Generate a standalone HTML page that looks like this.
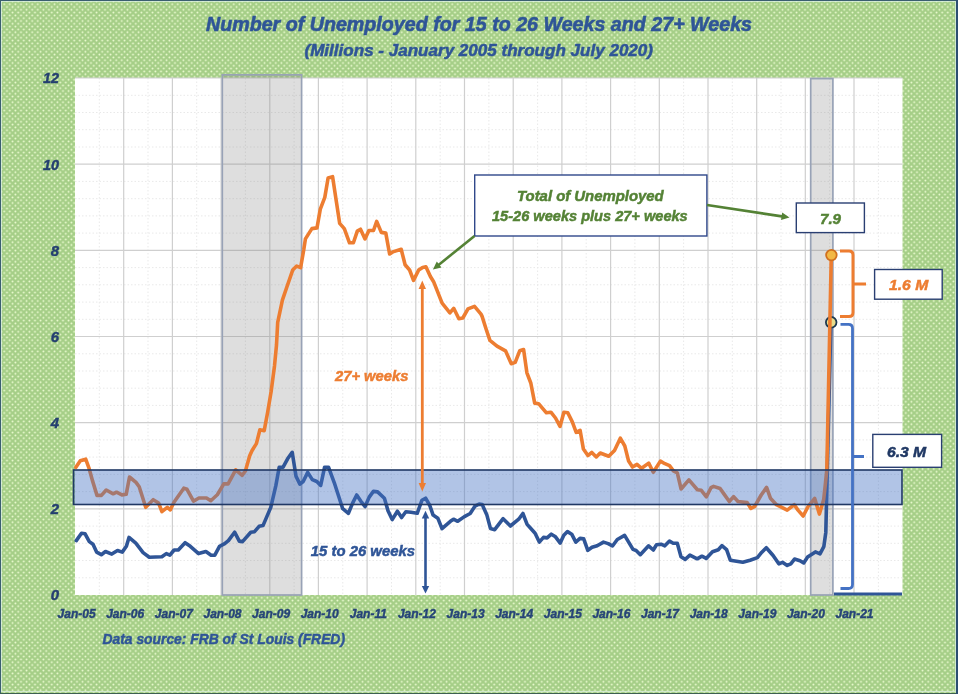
<!DOCTYPE html>
<html><head><meta charset="utf-8">
<style>
html,body{margin:0;padding:0;width:958px;height:694px;overflow:hidden;background:#b0d596}
svg{display:block;will-change:transform}
text{font-family:"Liberation Sans",sans-serif;font-weight:bold;font-style:italic}
.mj{stroke:#cfcfcf;stroke-width:1.2}
.mn{stroke:#e9e9e9;stroke-width:1;stroke-dasharray:1.5 2}
.yl{font-size:15px;fill:#243f70;stroke:#243f70;stroke-width:0.45}
.an{font-size:15px;stroke-width:0.5}
.xl{font-size:12px;fill:#264478;stroke:#264478;stroke-width:0.4}
</style></head><body>
<svg width="958" height="694" viewBox="0 0 958 694">
<defs>
<pattern id="dots" width="5.6" height="5.6" patternUnits="userSpaceOnUse">
<rect width="5.6" height="5.6" fill="#a5ce87"/>
<circle cx="1.4" cy="1.4" r="0.95" fill="#effed4"/>
<circle cx="4.2" cy="4.2" r="0.95" fill="#effed4"/>
</pattern>
<marker id="agr" viewBox="0 0 10 10" refX="9" refY="5" markerWidth="4.2" markerHeight="4.2" orient="auto"><path d="M0,0 L10,5 L0,10 z" fill="#548235"/></marker>
</defs>
<rect x="0" y="0" width="958" height="694" fill="url(#dots)"/>
<rect x="1.5" y="1.5" width="954" height="690" fill="none" stroke="#d8eedd" stroke-width="1" stroke-opacity="0.8"/>
<rect x="0" y="0" width="958" height="1" fill="#3b5f70"/>
<rect x="0" y="0" width="1" height="694" fill="#3b5f70"/>
<rect x="0" y="693" width="958" height="1" fill="#3b6050"/>
<rect x="956" y="0" width="2" height="694" fill="#2c4f72"/>
<text x="206" y="30.8" textLength="546" lengthAdjust="spacingAndGlyphs" style="font-size:19.5px;fill:#2f5597;stroke:#2f5597;stroke-width:0.6">Number of Unemployed for 15 to 26 Weeks and 27+ Weeks</text>
<text x="304.5" y="55.6" textLength="348.5" lengthAdjust="spacingAndGlyphs" style="font-size:16.5px;fill:#2f5597;stroke:#2f5597;stroke-width:0.5">(Millions - January 2005 through July 2020)</text>
<rect x="75" y="78" width="827.5" height="517" fill="#ffffff"/>
<line x1="75" y1="577.8" x2="902.5" y2="577.8" class="mn"/>
<line x1="75" y1="560.5" x2="902.5" y2="560.5" class="mn"/>
<line x1="75" y1="543.3" x2="902.5" y2="543.3" class="mn"/>
<line x1="75" y1="526.1" x2="902.5" y2="526.1" class="mn"/>
<line x1="75" y1="491.6" x2="902.5" y2="491.6" class="mn"/>
<line x1="75" y1="474.4" x2="902.5" y2="474.4" class="mn"/>
<line x1="75" y1="457.1" x2="902.5" y2="457.1" class="mn"/>
<line x1="75" y1="439.9" x2="902.5" y2="439.9" class="mn"/>
<line x1="75" y1="405.4" x2="902.5" y2="405.4" class="mn"/>
<line x1="75" y1="388.2" x2="902.5" y2="388.2" class="mn"/>
<line x1="75" y1="371.0" x2="902.5" y2="371.0" class="mn"/>
<line x1="75" y1="353.8" x2="902.5" y2="353.8" class="mn"/>
<line x1="75" y1="319.3" x2="902.5" y2="319.3" class="mn"/>
<line x1="75" y1="302.1" x2="902.5" y2="302.1" class="mn"/>
<line x1="75" y1="284.8" x2="902.5" y2="284.8" class="mn"/>
<line x1="75" y1="267.6" x2="902.5" y2="267.6" class="mn"/>
<line x1="75" y1="233.1" x2="902.5" y2="233.1" class="mn"/>
<line x1="75" y1="215.9" x2="902.5" y2="215.9" class="mn"/>
<line x1="75" y1="198.7" x2="902.5" y2="198.7" class="mn"/>
<line x1="75" y1="181.4" x2="902.5" y2="181.4" class="mn"/>
<line x1="75" y1="147.0" x2="902.5" y2="147.0" class="mn"/>
<line x1="75" y1="129.7" x2="902.5" y2="129.7" class="mn"/>
<line x1="75" y1="112.5" x2="902.5" y2="112.5" class="mn"/>
<line x1="75" y1="95.3" x2="902.5" y2="95.3" class="mn"/>
<line x1="99.3" y1="78" x2="99.3" y2="595" class="mn"/>
<line x1="148.0" y1="78" x2="148.0" y2="595" class="mn"/>
<line x1="196.7" y1="78" x2="196.7" y2="595" class="mn"/>
<line x1="245.4" y1="78" x2="245.4" y2="595" class="mn"/>
<line x1="294.1" y1="78" x2="294.1" y2="595" class="mn"/>
<line x1="342.8" y1="78" x2="342.8" y2="595" class="mn"/>
<line x1="391.5" y1="78" x2="391.5" y2="595" class="mn"/>
<line x1="440.2" y1="78" x2="440.2" y2="595" class="mn"/>
<line x1="488.9" y1="78" x2="488.9" y2="595" class="mn"/>
<line x1="537.6" y1="78" x2="537.6" y2="595" class="mn"/>
<line x1="586.2" y1="78" x2="586.2" y2="595" class="mn"/>
<line x1="634.9" y1="78" x2="634.9" y2="595" class="mn"/>
<line x1="683.6" y1="78" x2="683.6" y2="595" class="mn"/>
<line x1="732.3" y1="78" x2="732.3" y2="595" class="mn"/>
<line x1="781.0" y1="78" x2="781.0" y2="595" class="mn"/>
<line x1="829.7" y1="78" x2="829.7" y2="595" class="mn"/>
<line x1="878.4" y1="78" x2="878.4" y2="595" class="mn"/>
<line x1="75" y1="508.8" x2="902.5" y2="508.8" class="mj"/>
<line x1="75" y1="422.7" x2="902.5" y2="422.7" class="mj"/>
<line x1="75" y1="336.5" x2="902.5" y2="336.5" class="mj"/>
<line x1="75" y1="250.4" x2="902.5" y2="250.4" class="mj"/>
<line x1="75" y1="164.2" x2="902.5" y2="164.2" class="mj"/>
<line x1="75" y1="78.0" x2="902.5" y2="78.0" class="mj"/>
<line x1="123.7" y1="78" x2="123.7" y2="595" class="mj"/>
<line x1="172.4" y1="78" x2="172.4" y2="595" class="mj"/>
<line x1="221.1" y1="78" x2="221.1" y2="595" class="mj"/>
<line x1="269.8" y1="78" x2="269.8" y2="595" class="mj"/>
<line x1="318.4" y1="78" x2="318.4" y2="595" class="mj"/>
<line x1="367.1" y1="78" x2="367.1" y2="595" class="mj"/>
<line x1="415.8" y1="78" x2="415.8" y2="595" class="mj"/>
<line x1="464.5" y1="78" x2="464.5" y2="595" class="mj"/>
<line x1="513.2" y1="78" x2="513.2" y2="595" class="mj"/>
<line x1="561.9" y1="78" x2="561.9" y2="595" class="mj"/>
<line x1="610.6" y1="78" x2="610.6" y2="595" class="mj"/>
<line x1="659.3" y1="78" x2="659.3" y2="595" class="mj"/>
<line x1="708.0" y1="78" x2="708.0" y2="595" class="mj"/>
<line x1="756.7" y1="78" x2="756.7" y2="595" class="mj"/>
<line x1="805.3" y1="78" x2="805.3" y2="595" class="mj"/>
<line x1="854.0" y1="78" x2="854.0" y2="595" class="mj"/>
<rect x="222.3" y="74.8" width="79.3" height="520.2" fill="rgba(128,128,128,0.26)" stroke="#98a2b6" stroke-width="1.7"/>
<rect x="810.7" y="78.6" width="22.2" height="516.4" fill="rgba(128,128,128,0.26)" stroke="#98a2b6" stroke-width="1.7"/>
<text x="50.8" y="600.3" class="yl" textLength="8.3" lengthAdjust="spacingAndGlyphs">0</text>
<text x="50.8" y="514.1" class="yl" textLength="8.3" lengthAdjust="spacingAndGlyphs">2</text>
<text x="50.8" y="428.0" class="yl" textLength="8.3" lengthAdjust="spacingAndGlyphs">4</text>
<text x="50.8" y="341.8" class="yl" textLength="8.3" lengthAdjust="spacingAndGlyphs">6</text>
<text x="50.8" y="255.7" class="yl" textLength="8.3" lengthAdjust="spacingAndGlyphs">8</text>
<text x="43" y="169.5" class="yl" textLength="16" lengthAdjust="spacingAndGlyphs">10</text>
<text x="43" y="83.3" class="yl" textLength="16" lengthAdjust="spacingAndGlyphs">12</text>
<text x="76.6" y="618.3" class="xl" text-anchor="middle">Jan-05</text>
<text x="125.2" y="618.3" class="xl" text-anchor="middle">Jan-06</text>
<text x="173.8" y="618.3" class="xl" text-anchor="middle">Jan-07</text>
<text x="222.5" y="618.3" class="xl" text-anchor="middle">Jan-08</text>
<text x="271.1" y="618.3" class="xl" text-anchor="middle">Jan-09</text>
<text x="319.7" y="618.3" class="xl" text-anchor="middle">Jan-10</text>
<text x="368.3" y="618.3" class="xl" text-anchor="middle">Jan-11</text>
<text x="416.9" y="618.3" class="xl" text-anchor="middle">Jan-12</text>
<text x="465.6" y="618.3" class="xl" text-anchor="middle">Jan-13</text>
<text x="514.2" y="618.3" class="xl" text-anchor="middle">Jan-14</text>
<text x="562.8" y="618.3" class="xl" text-anchor="middle">Jan-15</text>
<text x="611.4" y="618.3" class="xl" text-anchor="middle">Jan-16</text>
<text x="660.0" y="618.3" class="xl" text-anchor="middle">Jan-17</text>
<text x="708.7" y="618.3" class="xl" text-anchor="middle">Jan-18</text>
<text x="757.3" y="618.3" class="xl" text-anchor="middle">Jan-19</text>
<text x="805.9" y="618.3" class="xl" text-anchor="middle">Jan-20</text>
<text x="854.5" y="618.3" class="xl" text-anchor="middle">Jan-21</text>
<text x="102.5" y="644" textLength="242.5" lengthAdjust="spacingAndGlyphs" style="font-size:14.5px;fill:#2f5597;stroke:#2f5597;stroke-width:0.45">Data source: FRB of St Louis (FRED)</text>
<polyline points="76.3,540.6 81.5,533.3 85.1,533.8 89.3,541.6 93.0,544.2 96.6,552.1 101.3,554.7 105.5,551.5 111.8,554.1 117.5,550.5 122.2,552.1 126.4,546.3 129.0,537.4 135.8,543.2 143.1,552.6 149.3,557.3 161.9,556.8 166.3,553.6 169.9,555.2 174.1,550.0 178.3,550.0 185.1,542.7 190.3,546.3 198.6,553.6 205.9,551.5 211.1,555.2 214.8,555.2 219.5,546.3 224.7,543.7 228.4,540.6 234.6,532.2 239.3,541.1 242.5,541.6 250.8,532.2 254.5,531.7 259.1,526.3 263.0,525.6 270.8,507.4 275.9,485.4 279.2,467.2 283.1,467.2 287.6,458.8 292.2,452.3 296.0,476.3 299.9,484.1 303.2,481.5 307.7,472.4 312.3,479.6 316.8,481.5 320.7,485.4 324.6,467.2 328.5,467.2 334.3,482.8 342.7,508.7 348.4,513.3 352.5,503.4 356.7,495.0 360.9,501.3 365.1,506.5 369.2,497.1 373.4,491.4 377.6,491.9 384.4,498.2 388.0,510.7 392.2,519.6 397.4,511.2 401.6,517.5 405.8,511.8 411.0,512.3 417.2,513.3 421.9,500.3 425.6,498.2 429.8,505.5 433.1,515.1 437.8,518.2 442.0,528.6 450.4,521.3 453.5,519.2 457.7,521.3 464.4,516.6 470.2,513.5 474.9,506.2 479.1,504.1 482.2,504.6 486.9,515.1 490.5,528.6 494.7,529.7 503.1,518.7 510.4,526.0 518.7,519.2 522.9,513.5 527.1,524.4 530.4,528.0 535.1,533.2 539.3,542.1 543.5,537.4 547.1,537.9 551.3,534.2 555.5,536.8 560.2,543.1 563.8,535.3 567.5,531.6 571.7,534.2 575.8,542.1 580.0,538.4 583.7,538.9 587.8,550.4 592.0,547.3 597.2,545.7 603.5,542.1 608.2,543.6 612.5,546.0 617.3,539.5 624.6,535.4 633.0,549.4 636.1,550.5 640.3,554.7 648.6,545.8 653.3,550.0 656.5,544.7 661.1,544.2 664.8,545.8 669.5,541.1 673.2,543.2 677.3,543.2 681.0,556.8 685.2,559.4 689.9,555.2 697.2,558.8 701.9,556.2 706.2,558.4 712.5,551.8 718.3,549.7 721.9,545.6 726.6,549.7 730.3,560.2 736.5,561.2 742.8,562.3 750.1,560.2 757.4,557.6 761.6,552.4 766.3,547.7 773.1,555.5 778.8,563.8 782.5,562.3 787.2,565.4 790.8,563.8 794.5,559.1 800.0,560.7 803.7,562.9 807.6,557.1 815.4,551.9 820.0,553.8 823.8,546.7 825.8,532.4 830.9,321.9" fill="none" stroke="#2f5597" stroke-width="3.6" stroke-linejoin="round" stroke-linecap="round"/>
<circle cx="831.2" cy="322.3" r="5.3" fill="#e8dc8a" stroke="#1d3850" stroke-width="1.8"/>
<polyline points="75.9,467.3 80.3,460.8 85.7,459.2 88.9,467.8 92.7,481.4 97.0,495.4 101.4,495.4 106.2,490.0 113.2,493.8 116.5,492.2 121.9,494.9 126.2,494.3 129.5,477.0 136.0,482.4 139.2,486.8 145.7,507.3 153.2,499.7 158.6,503.0 161.9,511.6 167.3,507.3 170.3,509.9 174.0,502.3 183.8,488.2 187.0,489.3 193.5,501.2 198.9,498.0 206.5,498.0 210.8,500.7 217.3,494.7 223.8,483.9 228.1,483.9 235.7,469.9 242.2,475.3 245.4,471.0 249.7,455.8 252.1,450.5 256.4,443.6 259.9,429.8 264.2,430.7 267.6,412.5 271.1,391.8 274.5,365.9 276.5,345.0 277.7,322.4 282.4,300.2 287.2,286.0 292.7,270.1 296.7,266.1 300.6,267.7 303.8,249.5 305.4,238.9 311.9,228.6 317.0,227.9 320.3,209.1 324.8,197.4 328.1,178.0 332.6,176.7 336.5,202.6 339.7,223.4 344.3,228.6 349.5,242.8 353.4,242.8 357.3,231.1 360.5,229.2 365.0,238.9 368.9,230.5 373.5,230.5 376.7,221.4 381.3,232.4 385.8,233.1 389.6,254.0 392.8,251.9 401.2,249.3 405.1,264.8 409.6,270.0 413.5,280.4 418.7,270.0 422.6,267.4 425.9,266.8 430.4,276.5 433.6,281.7 442.1,303.1 449.9,312.8 453.7,308.3 458.9,318.7 462.8,318.0 468.0,308.9 474.5,306.3 481.0,314.1 482.1,316.4 486.0,328.7 489.9,340.4 497.0,346.2 505.5,350.8 511.3,363.7 515.2,362.4 519.7,350.8 523.6,349.5 526.9,372.8 530.8,383.0 534.7,403.1 538.6,403.7 546.4,412.8 550.9,412.2 555.5,418.0 560.0,426.4 563.9,412.2 567.8,412.8 572.3,421.9 576.2,432.3 580.1,430.3 583.4,449.1 587.9,455.6 591.8,452.4 596.3,456.9 600.2,453.0 608.7,456.3 614.5,450.4 620.3,438.2 624.8,446.0 628.6,461.1 632.5,467.0 637.0,464.4 641.6,468.3 648.7,463.1 653.3,472.2 660.4,461.1 664.9,463.7 669.5,465.7 673.4,470.9 677.3,472.8 681.1,489.0 688.9,479.9 697.4,489.7 701.3,490.3 706.4,496.8 711.0,487.7 713.6,486.4 720.1,488.5 723.9,493.9 729.3,501.5 733.6,496.6 738.0,501.5 747.2,502.6 750.9,508.5 754.7,506.4 761.2,495.0 766.6,487.4 770.4,498.2 776.4,504.7 787.2,510.1 794.2,504.7 798.0,510.1 803.2,516.0 808.2,506.3 814.7,498.5 819.4,514.1 823.7,499.4 825.5,483.0 826.8,470.0 831.3,254.9" fill="none" stroke="#ed7d31" stroke-width="3.6" stroke-linejoin="round" stroke-linecap="round"/>
<line x1="834" y1="594" x2="902" y2="594" stroke="#2f5597" stroke-width="3"/>
<rect x="73.5" y="470" width="828.5" height="34.5" fill="rgba(68,114,196,0.42)" stroke="#203864" stroke-width="1.6"/>
<rect x="474.7" y="175" width="232.2" height="61" fill="#fff" stroke="#30488a" stroke-width="1.4"/>
<text x="517" y="201" textLength="146.7" lengthAdjust="spacingAndGlyphs" class="an" style="fill:#548235;stroke:#548235">Total of Unemployed</text>
<text x="492" y="221.4" textLength="195.7" lengthAdjust="spacingAndGlyphs" class="an" style="fill:#548235;stroke:#548235">15-26 weeks plus 27+ weeks</text>
<line x1="474.5" y1="236" x2="437.6" y2="265.7" stroke="#548235" stroke-width="2.6"/><path d="M432.9,269.5 L436.8,261.6 L441.5,267.4 z" fill="#548235"/>
<line x1="707" y1="205" x2="783.6" y2="216.6" stroke="#548235" stroke-width="2.6"/><path d="M789.5,217.5 L781.0,220.0 L782.2,212.6 z" fill="#548235"/>
<rect x="796.3" y="203" width="68.1" height="29.6" fill="#fff" stroke="#2a3f72" stroke-width="1.4"/>
<text x="820" y="223.5" textLength="21" lengthAdjust="spacingAndGlyphs" class="an" style="fill:#548235;stroke:#548235">7.9</text>
<rect x="874.6" y="269.5" width="67.6" height="29.7" fill="#fff" stroke="#2a3f72" stroke-width="1.4"/>
<text x="889" y="289.9" textLength="39.2" lengthAdjust="spacingAndGlyphs" class="an" style="fill:#ed7d31;stroke:#ed7d31">1.6 M</text>
<rect x="872.8" y="434.4" width="68.8" height="32.9" fill="#fff" stroke="#2a3f72" stroke-width="1.4"/>
<text x="886.9" y="456.8" textLength="39.3" lengthAdjust="spacingAndGlyphs" class="an" style="fill:#203864;stroke:#203864">6.3 M</text>
<text x="335" y="380.6" textLength="73.4" lengthAdjust="spacingAndGlyphs" class="an" style="fill:#ed7d31;stroke:#ed7d31">27+ weeks</text>
<text x="310.8" y="556.3" textLength="104.2" lengthAdjust="spacingAndGlyphs" class="an" style="fill:#2f5597;stroke:#2f5597">15 to 26 weeks</text>
<line x1="422.3" y1="286" x2="422.3" y2="486" stroke="#ed7d31" stroke-width="2.8"/>
<path d="M422.3,280.5 L418.6,289 L426,289 z" fill="#ed7d31"/>
<path d="M422.3,491.5 L418.6,483 L426,483 z" fill="#ed7d31"/>
<line x1="425.5" y1="516" x2="425.5" y2="588" stroke="#2f5597" stroke-width="2.6"/>
<path d="M425.5,510.8 L421.8,518.5 L429.2,518.5 z" fill="#2f5597"/>
<path d="M425.5,593.6 L421.8,586 L429.2,586 z" fill="#2f5597"/>
<path d="M840,251 L849,251 Q853,251 853,255 L853,312.4 Q853,316.4 849,316.4 L840,316.4 M853,284 L866,284" fill="none" stroke="#ed7d31" stroke-width="3.0"/>
<path d="M840.5,324.4 L848.5,324.4 Q852.5,324.4 852.5,328.4 L852.5,584.5 Q852.5,588.5 848.5,588.5 L840.5,588.5 M852.5,456.5 L864,456.5" fill="none" stroke="#4472c4" stroke-width="2.8"/>
<circle cx="831.4" cy="255.1" r="5.3" fill="#f2b845" stroke="#d0701f" stroke-width="1.8"/>
</svg>
</body></html>
